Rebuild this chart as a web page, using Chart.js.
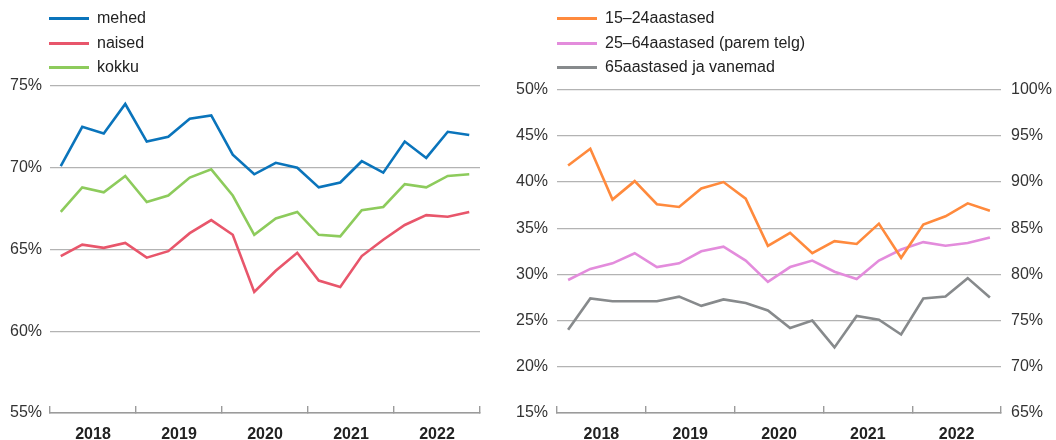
<!DOCTYPE html>
<html>
<head>
<meta charset="utf-8">
<script src="https://cdn.jsdelivr.net/npm/chart.js@4/dist/chart.umd.min.js"></script>
<style>
  body { margin: 0; background: #fff; font-family: "Liberation Sans", Arial, sans-serif; }
  #wrap { position: relative; width: 1056px; height: 440px; overflow: hidden; }
  #leftBox { position: absolute; left: 0; top: 0; width: 500px; height: 440px; }
  #rightBox { position: absolute; left: 500px; top: 0; width: 556px; height: 440px; }
  .legend { position: absolute; top: 6px; }
  .legend .item { position: relative; height: 24.6px; font-size: 16px; color: #222; white-space: nowrap; }
  .legend .swatch { position: absolute; left: 0; top: 11px; width: 40px; height: 3px; }
  .legend .label { position: absolute; left: 48px; top: 2px; line-height: 20px; }
</style>
</head>
<body>
<div id="wrap">
  <div id="leftBox"><canvas id="leftChart" width="500" height="440"></canvas></div>
  <div id="rightBox"><canvas id="rightChart" width="556" height="440"></canvas></div>
  <div class="legend" id="leftLegend" style="left:49px"></div>
  <div class="legend" id="rightLegend" style="left:557px"></div>
</div>
<script>
// -------------------------------
// DONNÉES (kvartalid 2018–2022)
// -------------------------------
const QUARTERS = [
  "2018 I", "2018 II", "2018 III", "2018 IV",
  "2019 I", "2019 II", "2019 III", "2019 IV",
  "2020 I", "2020 II", "2020 III", "2020 IV",
  "2021 I", "2021 II", "2021 III", "2021 IV",
  "2022 I", "2022 II", "2022 III", "2022 IV"
];
const YEARS = ["2018", "2019", "2020", "2021", "2022"];

// vasak joonis
const MEHED  = [70.1, 72.5, 72.1, 73.9, 71.6, 71.9, 73.0, 73.2, 70.8, 69.6, 70.3, 70.0, 68.8, 69.1, 70.4, 69.7, 71.6, 70.6, 72.2, 72.0];
const NAISED = [64.6, 65.3, 65.1, 65.4, 64.5, 64.9, 66.0, 66.8, 65.9, 62.4, 63.7, 64.8, 63.1, 62.7, 64.6, 65.6, 66.5, 67.1, 67.0, 67.3];
const KOKKU  = [67.3, 68.8, 68.5, 69.5, 67.9, 68.3, 69.4, 69.9, 68.3, 65.9, 66.9, 67.3, 65.9, 65.8, 67.4, 67.6, 69.0, 68.8, 69.5, 69.6];

// parem joonis
const AGE_15_24 = [41.8, 43.6, 38.1, 40.1, 37.6, 37.3, 39.3, 40.0, 38.2, 33.1, 34.5, 32.3, 33.6, 33.3, 35.5, 31.8, 35.4, 36.3, 37.7, 36.9];
const AGE_25_64 = [79.4, 80.6, 81.2, 82.3, 80.8, 81.2, 82.5, 83.0, 81.5, 79.2, 80.8, 81.5, 80.3, 79.5, 81.5, 82.7, 83.5, 83.1, 83.4, 84.0];
const AGE_65    = [24.0, 27.4, 27.1, 27.1, 27.1, 27.6, 26.6, 27.3, 26.9, 26.1, 24.2, 25.0, 22.1, 25.5, 25.1, 23.5, 27.4, 27.6, 29.6, 27.5];

const LEFT_TICKS = [55, 60, 65, 70, 75];
const RIGHT_TICKS_L = [15, 20, 25, 30, 35, 40, 45, 50];
const RIGHT_TICKS_R = [65, 70, 75, 80, 85, 90, 95, 100];

const GRID_COLOR = "#b3b3b3";
const AXIS_COLOR = "#9b9b9b";
const TICK_FONT = { family: "'Liberation Sans', Arial, sans-serif", size: 16 };

// -------------------------------
// ABIFUNKTSIOONID
// -------------------------------
function line(label, data, color, axis) {
  return {
    label: label,
    data: data,
    borderColor: color,
    backgroundColor: color,
    borderWidth: 2.6,
    pointRadius: 0,
    tension: 0,
    fill: false,
    yAxisID: axis || "y"
  };
}

function yearAxis() {
  return {
    type: "category",
    labels: YEARS,
    offset: true,
    position: "bottom",
    grid: { offset: true, drawOnChartArea: false, drawTicks: true, tickLength: -7, color: AXIS_COLOR, lineWidth: 1.4 },
    border: { display: true, color: AXIS_COLOR, width: 1.6 },
    ticks: { color: "#222", font: { family: TICK_FONT.family, size: 16, weight: "bold" }, padding: 19, maxRotation: 0, autoSkip: false },
    afterFit: scale => { scale.height = 27; }
  };
}

function valueAxis(ticks, position, width, pad, grid) {
  return {
    type: "linear",
    position: position,
    min: ticks[0],
    max: ticks[ticks.length - 1],
    afterBuildTicks: scale => { scale.ticks = ticks.map(v => ({ value: v })); },
    grid: grid ? { color: GRID_COLOR, lineWidth: 1.3, drawTicks: false } : { drawOnChartArea: false, drawTicks: false },
    border: { display: false },
    ticks: { color: "#333", font: TICK_FONT, padding: pad, callback: v => v + "%" },
    afterFit: scale => { scale.width = width; }
  };
}

function makeLegend(id, datasets) {
  const box = document.getElementById(id);
  datasets.forEach(ds => {
    const item = document.createElement("div");
    item.className = "item";
    item.innerHTML = '<span class="swatch" style="background:' + ds.borderColor + '"></span><span class="label"></span>';
    item.querySelector(".label").textContent = ds.label;
    box.appendChild(item);
  });
}

// -------------------------------
// VASAK JOONIS
// -------------------------------
const leftSets = [
  line("mehed", MEHED, "#0a74bb"),
  line("naised", NAISED, "#e8566b"),
  line("kokku", KOKKU, "#8dcb5c")
];

new Chart(document.getElementById("leftChart"), {
  type: "line",
  data: { labels: QUARTERS, datasets: leftSets },
  options: {
    responsive: false,
    animation: false,
    devicePixelRatio: 1,
    layout: { padding: { top: 86, right: 20, left: 0, bottom: 0 } },
    plugins: { legend: { display: false }, tooltip: { enabled: false } },
    scales: {
      x: { type: "category", display: false, offset: true },
      x2: yearAxis(),
      y: valueAxis(LEFT_TICKS, "left", 50, 8, true)
    }
  }
});
makeLegend("leftLegend", leftSets);

// -------------------------------
// PAREM JOONIS (kaks telge)
// -------------------------------
const rightSets = [
  line("15–24aastased", AGE_15_24, "#ff8a3d"),
  line("25–64aastased (parem telg)", AGE_25_64, "#e38cdc", "y1"),
  line("65aastased ja vanemad", AGE_65, "#878a8c")
];

new Chart(document.getElementById("rightChart"), {
  type: "line",
  data: { labels: QUARTERS, datasets: rightSets },
  options: {
    responsive: false,
    animation: false,
    devicePixelRatio: 1,
    layout: { padding: { top: 89.7, right: 0, left: 0, bottom: 0 } },
    plugins: { legend: { display: false }, tooltip: { enabled: false } },
    scales: {
      x: { type: "category", display: false, offset: true },
      x2: yearAxis(),
      y: valueAxis(RIGHT_TICKS_L, "left", 57, 9, true),
      y1: valueAxis(RIGHT_TICKS_R, "right", 55, 10, false)
    }
  }
});
makeLegend("rightLegend", rightSets);
</script>
</body>
</html>
